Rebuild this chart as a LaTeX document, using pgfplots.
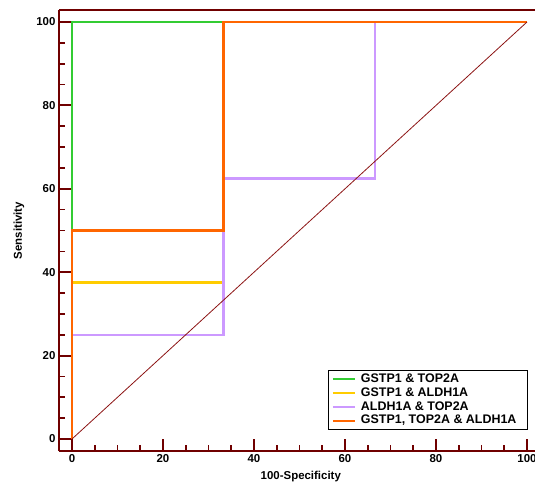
\documentclass[border=0pt]{standalone}
\usepackage{fontspec}
\setmainfont{Liberation Sans}
\usepackage{pgfplots}
\pgfplotsset{compat=1.18}
\definecolor{spine}{RGB}{112,0,0}
\definecolor{diag}{RGB}{140,20,20}
\definecolor{cgreen}{RGB}{51,204,51}
\definecolor{cyellow}{RGB}{255,204,0}
\definecolor{cpurple}{RGB}{204,153,255}
\definecolor{corange}{RGB}{255,102,0}
\begin{document}
\begin{tikzpicture}
\begin{axis}[
  name=ax, at={(0,0)}, anchor=south west,
  scale only axis, width=476bp, height=441bp,
  xmin=-2.857, xmax=101.76, ymin=-2.88, ymax=102.88,
  axis x line*=box, axis y line*=left,
  xtick pos=bottom, ytick pos=left,
  axis line style={spine, line width=2.5bp},
  xtick={0,20,...,100}, ytick={0,20,...,100},
  minor tick num=3,
  tick align=inside,
  major tick length=12bp, minor tick length=6bp,
  major tick style={spine, line width=2bp},
  minor tick style={spine, line width=1.6bp},
  ticklabel style={font=\bfseries\fontsize{11.5}{13}\selectfont},
  /pgf/number format/assume math mode=true,
  xlabel={100-Specificity}, ylabel={Sensitivity},
  every axis x label/.style={at={(axis description cs:0.508,-0.059)}, anchor=center, font=\bfseries\fontsize{11.5}{13}\selectfont},
  every axis y label/.style={at={(axis description cs:-0.084,0.5)}, rotate=90, anchor=center, font=\bfseries\fontsize{11.5}{13}\selectfont},
  legend style={at={(axis description cs:0.985,0.048)}, anchor=south east,
    draw=black, line width=0.8bp, inner xsep=4bp, inner ysep=2bp,
    font=\bfseries\fontsize{12.5}{14}\selectfont,
    nodes={inner sep=1bp, text height=8.8bp, text depth=2.5bp},
    row sep=0.5bp,
    /tikz/every odd column/.append style={column sep=4bp}},
  legend cell align=left,
  legend image code/.code={\draw[#1, line width=2bp] (0bp,0bp) -- (22bp,0bp);},
]
\addplot[cgreen, line width=2.3bp, no marks, sharp plot] coordinates {(0,0) (0,100) (100,100)};
\addlegendentry{GSTP1 \& TOP2A}
\addplot[cyellow, line width=2.3bp, no marks, sharp plot] coordinates {(0,0) (0,37.5) (33.33,37.5) (33.33,100) (100,100)};
\addlegendentry{GSTP1 \& ALDH1A}
\addplot[cpurple, line width=2.3bp, no marks, sharp plot] coordinates {(0,0) (0,25) (33.33,25) (33.33,62.5) (66.67,62.5) (66.67,100) (100,100)};
\addlegendentry{ALDH1A \& TOP2A}
\addplot[corange, line width=2.3bp, no marks, sharp plot] coordinates {(0,0) (0,50) (33.33,50) (33.33,100) (100,100)};
\addlegendentry{GSTP1, TOP2A \& ALDH1A\kern6bp}
\addplot[diag, line width=0.8bp, no marks, forget plot] coordinates {(0,0) (100,100)};
\end{axis}
\pgfresetboundingbox
\useasboundingbox (-59bp,-36bp) rectangle (476bp,451bp);
\end{tikzpicture}
\end{document}
